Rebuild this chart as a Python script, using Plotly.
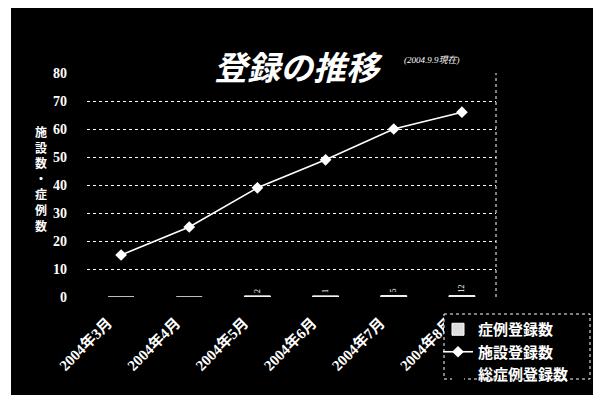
import plotly.graph_objects as go

categories = ["2004年3月", "2004年4月", "2004年5月", "2004年6月", "2004年7月", "2004年8月"]
facility_counts = [15, 25, 39, 49, 60, 66]
case_counts = [0, 0, 0.4, 0.4, 0.5, 0.5]
case_labels = ["", "", "2", "1", "5", "12"]
total_cases = [0, 0, 0, 0, 0, 0]
y_ticks = [0, 10, 20, 30, 40, 50, 60, 70, 80]

W, H = 593, 395
L, R, T, B = 87, 496, 73, 297
def px(x): return (x - L) / (R - L)
def py(y): return (B - y) / (B - T)

serif = "Liberation Serif, Noto Sans CJK JP, serif"
cjk = "Noto Sans CJK JP, sans-serif"

fig = go.Figure()
fig.add_trace(go.Bar(
    x=categories, y=case_counts, name="症例登録数",
    marker=dict(color="#dddddd", line=dict(color="white", width=1)),
    width=0.38, text=case_labels, textposition="outside", textangle=-90,
    textfont=dict(color="white", size=8, family=serif), cliponaxis=False,
))
fig.add_trace(go.Scatter(
    x=categories, y=facility_counts, name="施設登録数", mode="lines+markers",
    line=dict(color="white", width=1.6),
    marker=dict(symbol="diamond", size=9, color="white"), cliponaxis=False,
))
fig.add_trace(go.Bar(
    x=categories, y=total_cases, name="総症例登録数",
    marker=dict(color="black", line=dict(color="black", width=0)), width=0.38,
))

shapes = [
    dict(type="rect", xref="paper", yref="paper", x0=px(11), x1=px(600), y0=py(8), y1=py(400),
         fillcolor="black", line=dict(width=0), layer="below"),
    dict(type="line", xref="paper", yref="paper", x0=1, x1=1, y0=0, y1=1,
         line=dict(color="white", width=1, dash="dot")),
    dict(type="rect", xref="paper", yref="paper", x0=px(444), x1=px(590), y0=py(314), y1=py(379),
         fillcolor="black", line=dict(color="white", width=1, dash="dot"), layer="above"),
]

annotations = [
    dict(text="登録の推移", x=px(298), y=py(40), xref="paper", yref="paper", showarrow=False,
         font=dict(family=cjk, size=33, color="white", style="italic", weight="bold")),
    dict(text="(2004.9.9現在)", x=px(402), y=py(53), xref="paper", yref="paper", showarrow=False,
         xanchor="left", font=dict(family=serif, size=9, color="white", style="italic")),
    dict(text="<br>".join(list("施設数・症例数")), x=px(33), y=py(178), xref="paper", yref="paper",
         showarrow=False, font=dict(family=cjk, size=12, color="white", weight="bold")),
]

tick_text = [c + "\u00a0" * 5 for c in categories]

fig.update_layout(
    width=W, height=H,
    margin=dict(l=L, r=W - R, t=T, b=H - B, autoexpand=False),
    paper_bgcolor="white", plot_bgcolor="black",
    barmode="overlay", showlegend=True,
    shapes=shapes, annotations=annotations,
    legend=dict(x=px(438), y=py(313), xanchor="left", yanchor="top",
                bgcolor="rgba(0,0,0,0)", font=dict(family=cjk, size=15, color="white", weight="bold"),
                itemwidth=30, tracegroupgap=0),
    xaxis=dict(tickangle=-45, tickfont=dict(family=serif, size=15, color="white", weight="bold"),
               tickvals=categories, ticktext=tick_text,
               showgrid=False, showline=False, ticks="", zeroline=False, automargin=False,
               ticklabelstandoff=0),
    yaxis=dict(range=[0, 80], tickvals=y_ticks, showgrid=True, gridcolor="white", griddash="dot",
               gridwidth=1, zeroline=False, showline=False, ticks="", automargin=False,
               tickfont=dict(family=serif, size=14, color="white", weight="bold"), ticklabelstandoff=19),
)

fig.write_html("out.html", config={"displayModeBar": False},
               post_script="document.body.style.margin='0';document.body.style.overflow='hidden';")
